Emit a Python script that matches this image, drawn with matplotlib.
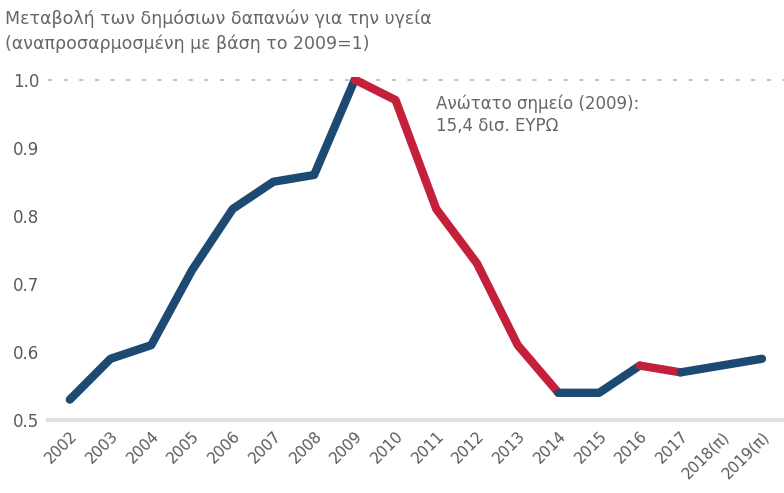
import numpy as np
import matplotlib.pyplot as plt

years = ['2002', '2003', '2004', '2005', '2006', '2007', '2008', '2009', '2010',
         '2011', '2012', '2013', '2014', '2015', '2016', '2017', '2018(π)', '2019(π)']
values = [0.53, 0.59, 0.61, 0.72, 0.81, 0.85, 0.86, 1.00, 0.97,
          0.81, 0.73, 0.61, 0.54, 0.54, 0.58, 0.57, 0.58, 0.59]
# colour of each segment between consecutive years: 'up' blue, 'down' red
trend = ['up'] * 7 + ['down'] * 5 + ['up'] * 2 + ['down'] + ['up'] * 2

blue = '#1d4a72'
red = '#c41f3b'
grey = '#666666'

fig = plt.figure(figsize=(7.84, 4.93), dpi=100)
ax = fig.add_axes([0.061, 0.148, 0.939, 0.696])

x = np.arange(len(years))
# group consecutive segments with the same colour so joins look smooth
start = 0
for i in range(1, len(trend) + 1):
    if i == len(trend) or trend[i] != trend[start]:
        c = blue if trend[start] == 'up' else red
        ax.plot(x[start:i + 1], values[start:i + 1], color=c, lw=6,
                solid_capstyle='round', solid_joinstyle='round', zorder=3)
        start = i

ax.axhline(1.0, color='#c4c4c4', lw=1.5, ls=(0, (2, 5.5)), zorder=1)

ax.set_xlim(-0.54, 17.54)
ax.set_ylim(0.5, 1.004)
ax.set_yticks([0.5, 0.6, 0.7, 0.8, 0.9, 1.0])
ax.set_yticklabels(['0.5', '0.6', '0.7', '0.8', '0.9', '1.0'])
ax.set_xticks(x)
ax.set_xticklabels(years, rotation=45, ha='right', va='top', rotation_mode='anchor')
ax.tick_params(axis='both', length=0, colors='#5a5a5a')
ax.tick_params(axis='y', pad=6, labelsize=12)
ax.tick_params(axis='x', pad=6, labelsize=11)

for s in ['top', 'right', 'left']:
    ax.spines[s].set_visible(False)
ax.spines['bottom'].set_color('#e0e0e0')
ax.spines['bottom'].set_linewidth(3)

ax.text(9.0, 0.978, 'Ανώτατο σημείο (2009):\n15,4 δισ. ΕΥΡΩ', color=grey,
        fontsize=12, va='top', ha='left', linespacing=1.3)

fig.text(0.006, 0.98, 'Μεταβολή των δημόσιων δαπανών για την υγεία\n'
         '(αναπροσαρμοσμένη με βάση το 2009=1)', color=grey, fontsize=12.5,
         va='top', ha='left', linespacing=1.45)

fig.savefig('out.png', dpi=100)
